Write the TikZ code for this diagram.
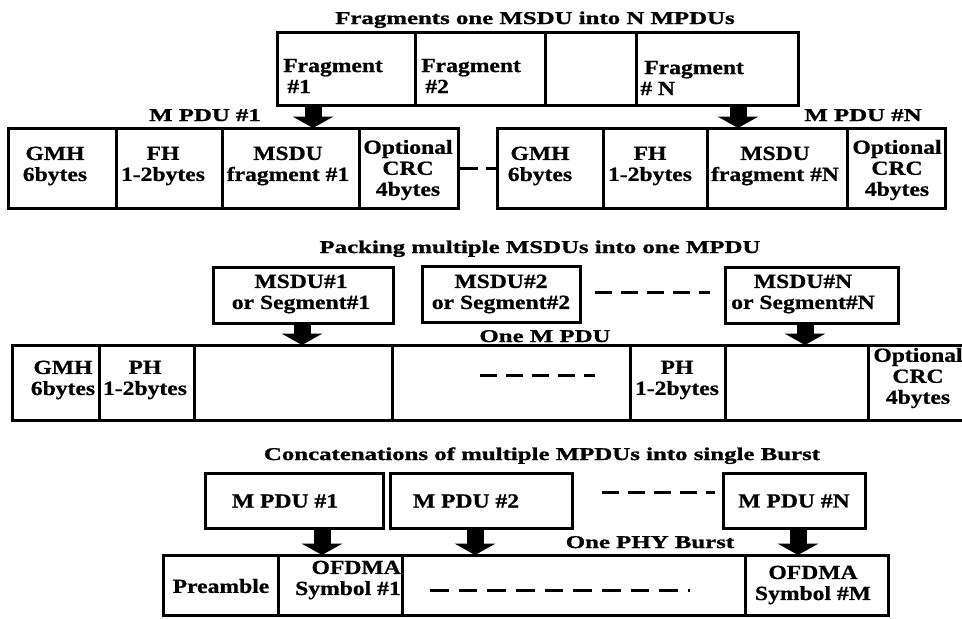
\documentclass[tikz,border=0pt]{standalone}
\usepackage{fontspec}
\setmainfont{Liberation Serif}
\newfontfamily\bodyfont{Liberation Serif}[FakeStretch=1.18, FakeBold=0.8]
\newfontfamily\titlefont{Liberation Serif}[FakeStretch=1.38, FakeBold=1.2]
\usetikzlibrary{arrows.meta}
\tikzset{
  cell/.style={draw, line width=2.25pt, inner sep=0pt, outer sep=0pt},
  txt/.style={font=\bodyfont\bfseries\fontsize{15}{15.75}\selectfont, align=center, inner sep=0pt},
  ttl/.style={font=\titlefont\bfseries\fontsize{13.5}{16}\selectfont, inner sep=0pt, anchor=base},
  blk/.style={line width=12.75pt, -{Triangle[width=30pt,length=8.5pt]}},
  dline/.style={line width=2.25pt, dash pattern=on 13pt off 6.5pt},
}
\newcommand\cellnode[5]{\node[cell, anchor=north west, minimum width={(#4-#2)*0.75pt}, minimum height={(#5-#3)*0.75pt}] (#1) at (#2,#3) {};}
\begin{document}
\begin{tikzpicture}[x=0.75pt, y=-0.75pt]
\useasboundingbox (0,0) rectangle (962,618);
% ---------- section 1 ----------
\node[ttl] (title1) at (535,24) {Fragments one MSDU into N MPDUs};
\cellnode{f1}{277}{32}{415}{105}
\cellnode{f2}{415}{32}{545}{105}
\cellnode{f3}{545}{32}{636}{105}
\cellnode{f4}{636}{32}{798}{105}
\node[txt, align=left, anchor=west] (tf1) at (283,76) {Fragment\\\hspace*{3pt}\#1};
\node[txt, align=left, anchor=west] (tf2) at (421,76) {Fragment\\\hspace*{3pt}\#2};
\node[txt, align=left, anchor=west] (tf4) at (640,78) {\hspace*{3pt}Fragment\\\# N};
\node[ttl] (lm1) at (205,121) {M PDU \#1};
\node[ttl] (lmn) at (863,121) {M PDU \#N};
\cellnode{a1}{8}{128}{116}{208}
\cellnode{a2}{116}{128}{222}{208}
\cellnode{a3}{222}{128}{359}{208}
\cellnode{a4}{359}{128}{458}{208}
\cellnode{b1}{497}{128}{603}{208}
\cellnode{b2}{603}{128}{707}{208}
\cellnode{b3}{707}{128}{847}{208}
\cellnode{b4}{847}{128}{945}{208}
\node[txt] (ta1) at (55,166) {GMH\\6bytes};
\node[txt] (ta2) at (163,166) {FH\\1-2bytes};
\node[txt] (ta3) at (288,166) {MSDU\\fragment \#1};
\node[txt] (ta4) at (408,170) {Optional\\CRC\\4bytes};
\node[txt] (tb1) at (540,166) {GMH\\6bytes};
\node[txt] (tb2) at (650,166) {FH\\1-2bytes};
\node[txt] (tb3) at (775,166) {MSDU\\fragment \#N};
\node[txt] (tb4) at (897,170) {Optional\\CRC\\4bytes};
\draw[line width=2.25pt, dash pattern=on 15pt off 6pt] (a4.east) -- (b1.west);
\coordinate (xa1) at (313,0);
\coordinate (xan) at (738,0);
\draw[blk] (f1.south -| xa1) -- (a3.north -| xa1);
\draw[blk] (f4.south -| xan) -- (b3.north -| xan);
% ---------- section 2 ----------
\node[ttl] (title2) at (540,253) {Packing multiple MSDUs into one MPDU};
\cellnode{m1}{213}{267}{393}{323}
\cellnode{m2}{422}{266}{580}{322}
\cellnode{m3}{725}{267}{898}{323}
\node[txt] (tm1) at (301,294) {MSDU\#1\\or Segment\#1};
\node[txt] (tm2) at (501,294) {MSDU\#2\\or Segment\#2};
\node[txt] (tm3) at (803,294) {MSDU\#N\\or Segment\#N};
\coordinate (d2a) at (595,292);
\coordinate (d2b) at (710,292);
\draw[dline] (d2a) -- (d2b);
\node[ttl] (lone) at (545,342) {One M PDU};
\cellnode{p1}{12}{345}{99}{420}
\cellnode{p2}{99}{345}{194}{420}
\cellnode{p3}{194}{345}{392}{420}
\cellnode{p4}{392}{345}{630}{420}
\cellnode{p5}{630}{345}{725}{420}
\cellnode{p6}{725}{345}{868}{420}
\cellnode{p7}{868}{345}{990}{420}
\node[txt] (tp1) at (63,380) {GMH\\6bytes};
\node[txt] (tp2) at (145,380) {PH\\1-2bytes};
\node[txt] (tp5) at (677,380) {PH\\1-2bytes};
\node[txt] (tp7) at (918,378) {Optional\\CRC\\4bytes};
\coordinate (d3a) at (480,375);
\coordinate (d3b) at (595,375);
\draw[dline] (d3a) -- (d3b);
\coordinate (xb1) at (302,0);
\coordinate (xbn) at (805,0);
\draw[blk] (m1.south -| xb1) -- (p3.north -| xb1);
\draw[blk] (m3.south -| xbn) -- (p6.north -| xbn);
% ---------- section 3 ----------
\node[ttl] (title3) at (542,460) {Concatenations of multiple MPDUs into single Burst};
\cellnode{q1}{205}{473}{383}{528}
\cellnode{q2}{390}{473}{572}{528}
\cellnode{q3}{723}{473}{865}{528}
\node[txt] (tq1) at (285,501) {M PDU \#1};
\node[txt] (tq2) at (466,501) {M PDU \#2};
\node[txt] (tq3) at (794,501) {M PDU \#N};
\coordinate (d4a) at (602,492);
\coordinate (d4b) at (715,492);
\draw[dline] (d4a) -- (d4b);
\node[ttl] (lphy) at (650,548) {One PHY Burst};
\cellnode{s1}{163}{555}{278}{615}
\cellnode{s2}{278}{555}{402}{615}
\cellnode{s3}{402}{555}{745}{615}
\cellnode{s4}{745}{555}{888}{615}
\node[txt] (ts1) at (221,586) {Preamble};
\node[txt, align=right, anchor=east] (ts2) at (401,580) {OFDMA\\Symbol \#1};
\node[txt] (ts4) at (813,585) {OFDMA\\Symbol \#M};
\coordinate (d5a) at (430,590);
\coordinate (d5b) at (690,590);
\draw[line width=2.25pt, dash pattern=on 14pt off 7.5pt] (d5a) -- (d5b);
\coordinate (xc1) at (322,0);
\coordinate (xc2) at (475,0);
\coordinate (xcn) at (798,0);
\draw[blk] (q1.south -| xc1) -- (s2.north -| xc1);
\draw[blk] (q2.south -| xc2) -- (s3.north -| xc2);
\draw[blk] (q3.south -| xcn) -- (s4.north -| xcn);
\end{tikzpicture}
\end{document}
